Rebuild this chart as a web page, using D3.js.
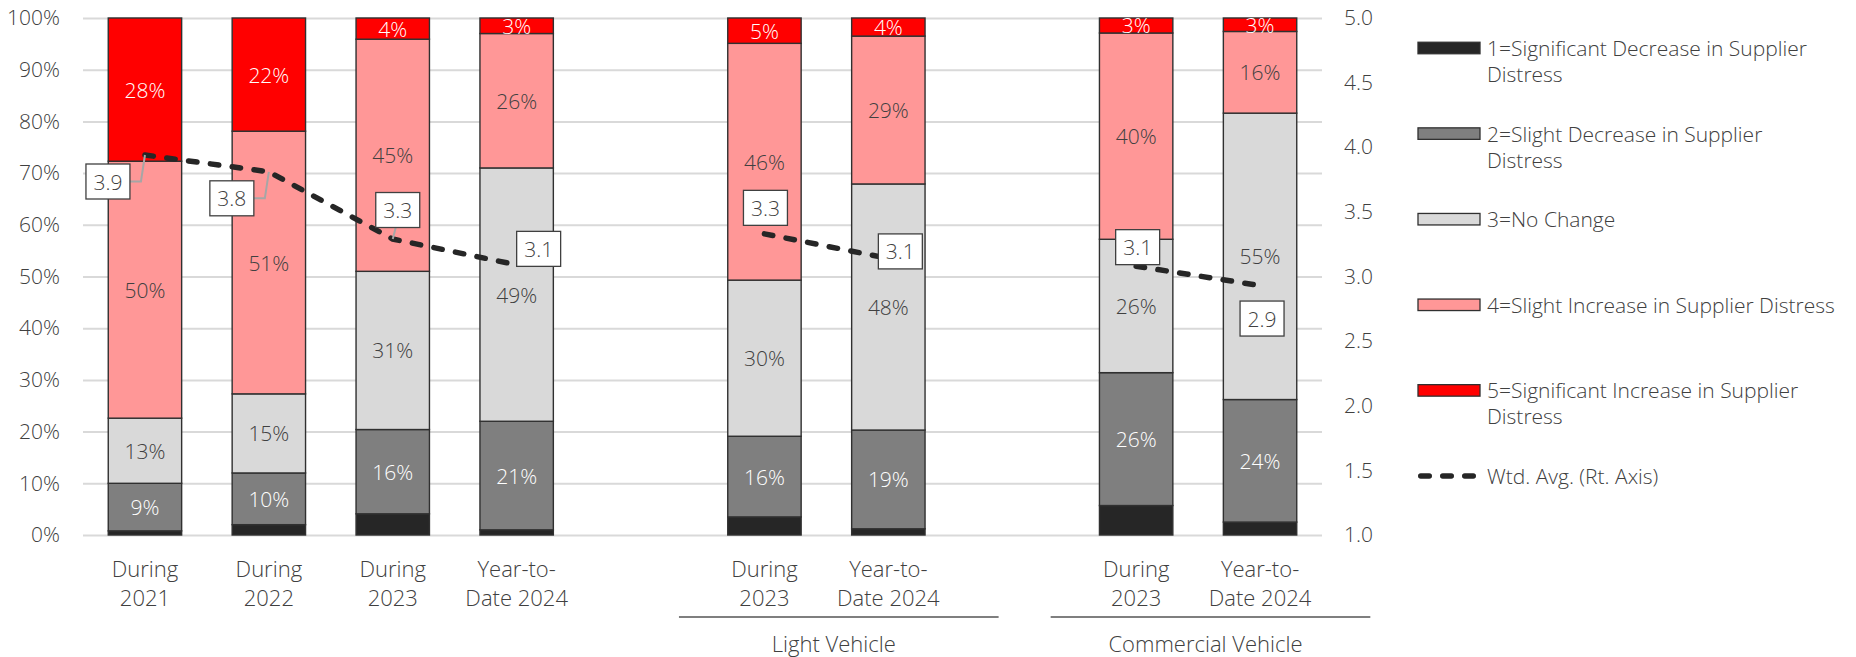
<!DOCTYPE html>
<html>
<head>
<meta charset="utf-8">
<script src="https://cdn.jsdelivr.net/npm/d3@7"></script>
<style>
  html, body { margin: 0; padding: 0; background: #fff; }
  svg { display: block; font-family: "Open Sans", Lato, sans-serif; font-weight: 300; }
</style>
</head>
<body>
<svg id="chart" width="1856" height="657"></svg>
<script>
// ---- Data ---------------------------------------------------------------
const categories = [
  "During\n2021", "During\n2022", "During\n2023", "Year-to-\nDate 2024",
  "During\n2023", "Year-to-\nDate 2024",
  "During\n2023", "Year-to-\nDate 2024"
];
const groups = ["", "", "", "", "Light Vehicle", "Light Vehicle", "Commercial Vehicle", "Commercial Vehicle"];

// Share of respondents (%) per rating
const sigDecrease    = [0.8,  2.0,  4.1,  1.0,  3.5,  1.2,  5.7,  2.5];
const slightDecrease = [9.2, 10.0, 16.3, 21.0, 15.6, 19.1, 25.7, 23.7];
const noChange       = [12.6, 15.3, 30.6, 49.0, 30.2, 47.6, 25.8, 55.4];
const slightIncrease = [49.7, 50.8, 44.9, 26.0, 45.8, 28.6, 39.9, 15.8];
const sigIncrease    = [27.7, 21.9,  4.1,  3.0,  4.9,  3.5,  2.9,  2.6];

// Weighted average rating (right axis)
const wtdAvg = [3.94, 3.81, 3.29, 3.09, 3.33, 3.14, 3.08, 2.93];

const seriesNames = [
  "1=Significant Decrease in Supplier\nDistress",
  "2=Slight Decrease in Supplier\nDistress",
  "3=No Change",
  "4=Slight Increase in Supplier Distress",
  "5=Significant Increase in Supplier\nDistress"
];
const lineName = "Wtd. Avg. (Rt. Axis)";

const pctTicks = [0, 10, 20, 30, 40, 50, 60, 70, 80, 90, 100];
const avgTicks = [1.0, 1.5, 2.0, 2.5, 3.0, 3.5, 4.0, 4.5, 5.0];

// ---- Styling / layout ----------------------------------------------------
const seriesValues = [sigDecrease, slightDecrease, noChange, slightIncrease, sigIncrease];
const fills = ["#262626", "#7f7f7f", "#d9d9d9", "#ff9797", "#ff0000"];
const labelColors = [null, "#ffffff", "#404040", "#404040", "#ffffff"];
const textColor = "#404040";
const fontSize = 21;
const catFontSize = 22;

// offsets of the average-value callouts from their points, and leader style
const calloutOffset = [[-37, 26.5], [-37, 26.5], [5, -29], [22, -16], [1, -26], [12, -7], [1.5, -19], [2, 33]];
const calloutLeader = ["elbow", "elbow", "straight", null, null, null, null, null];

const plot = { left: 83, right: 1322, top: 18, bottom: 535 };

const svg = d3.select("#chart");

// Build the category slots, leaving an empty slot between groups
const rows = categories.map((c, i) => ({
  i, key: groups[i] + "|" + c + "|" + i, label: c, group: groups[i],
  values: seriesValues.map(s => s[i]), avg: wtdAvg[i]
}));
const domain = [];
rows.forEach((r, i) => {
  if (i > 0 && rows[i - 1].group !== r.group) domain.push("gap" + i);
  domain.push(r.key);
});

const x = d3.scaleBand().domain(domain).range([plot.left, plot.right])
  .paddingInner(0.4076).paddingOuter(0.2038);
const y = d3.scaleLinear().domain([0, 100]).range([plot.bottom, plot.top]);
const y2 = d3.scaleLinear().domain([1, 5]).range([plot.bottom, plot.top]);
const cx = r => x(r.key) + x.bandwidth() / 2;

// ---- Gridlines & axes ----------------------------------------------------
const leftAxis = d3.axisLeft(y).tickValues(pctTicks).tickFormat(d => d + "%")
  .tickSize(-(plot.right - plot.left)).tickPadding(23);
const gL = svg.append("g").attr("transform", `translate(${plot.left},0)`).call(leftAxis);
gL.select(".domain").remove();
gL.selectAll(".tick line").attr("stroke", "#d9d9d9").attr("stroke-width", 2);
gL.selectAll(".tick text").attr("fill", textColor).attr("font-size", fontSize);
gL.attr("font-family", null);

const rightAxis = d3.axisRight(y2).tickValues(avgTicks).tickFormat(d3.format(".1f"))
  .tickSize(0).tickPadding(22);
const gR = svg.append("g").attr("transform", `translate(${plot.right},0)`).call(rightAxis);
gR.select(".domain").remove();
gR.selectAll(".tick text").attr("fill", textColor).attr("font-size", fontSize);
gR.attr("font-family", null);

// ---- Stacked bars --------------------------------------------------------
const stackData = rows.map(r => {
  let acc = 0;
  return r.values.map((v, s) => { const seg = { r, s, v, y0: acc, y1: acc + v }; acc += v; return seg; });
});

const barG = svg.append("g");
stackData.forEach(segs => {
  barG.selectAll(null).data(segs).enter().append("rect")
    .attr("x", d => x(d.r.key))
    .attr("width", x.bandwidth())
    .attr("y", d => y(d.y1))
    .attr("height", d => y(d.y0) - y(d.y1))
    .attr("fill", d => fills[d.s])
    .attr("stroke", "#303030")
    .attr("stroke-width", 1.4);
});

// segment value labels
const segLabelG = svg.append("g");
stackData.forEach(segs => {
  segLabelG.selectAll(null).data(segs.filter(d => labelColors[d.s])).enter().append("text")
    .attr("x", d => cx(d.r))
    .attr("y", d => y((d.y0 + d.y1) / 2))
    .attr("text-anchor", "middle")
    .attr("dominant-baseline", "central")
    .attr("font-size", fontSize)
    .attr("fill", d => labelColors[d.s])
    .text(d => Math.round(d.v) + "%");
});

// ---- Weighted average line (one run per group) ---------------------------
const dash = "8.5,13.5";
const line = d3.line().x(d => cx(d)).y(d => y2(d.avg));
const byGroup = d3.groups(rows, r => r.group);
svg.append("g").selectAll("path").data(byGroup).enter().append("path")
  .attr("d", d => line(d[1]))
  .attr("fill", "none")
  .attr("stroke", "#262626")
  .attr("stroke-width", 5.5)
  .attr("stroke-linecap", "round")
  .attr("stroke-dasharray", dash);

// callouts
const callG = svg.append("g");
rows.forEach((r, i) => {
  const px = cx(r), py = y2(r.avg);
  const bx = px + calloutOffset[i][0], by = py + calloutOffset[i][1];
  const t = callG.append("text")
    .attr("x", bx).attr("y", by)
    .attr("text-anchor", "middle").attr("dominant-baseline", "central")
    .attr("font-size", fontSize).attr("fill", textColor)
    .text(r.avg.toFixed(1));
  const w = t.node().getComputedTextLength() + 15, h = 35;
  if (calloutLeader[i] === "elbow") {
    callG.insert("path", "text")
      .attr("d", `M${bx + w / 2},${by} H${px - 4} L${px},${py}`)
      .attr("fill", "none").attr("stroke", "#a6a6a6").attr("stroke-width", 2);
  } else if (calloutLeader[i] === "straight") {
    callG.insert("path", "text")
      .attr("d", `M${bx - 2},${by + h / 2} L${px},${py}`)
      .attr("fill", "none").attr("stroke", "#a6a6a6").attr("stroke-width", 2);
  }
  callG.insert("rect", () => t.node())
    .attr("x", bx - w / 2).attr("y", by - h / 2)
    .attr("width", w).attr("height", h)
    .attr("fill", "#fff").attr("stroke", "#404040").attr("stroke-width", 1.3);
});

// ---- Category axis labels ------------------------------------------------
const catG = svg.append("g");
rows.forEach(r => {
  const t = catG.append("text")
    .attr("x", cx(r)).attr("y", 568)
    .attr("text-anchor", "middle").attr("dominant-baseline", "central")
    .attr("font-size", catFontSize).attr("fill", textColor);
  r.label.split("\n").forEach((ln, k) => {
    t.append("tspan").attr("x", cx(r)).attr("dy", k === 0 ? 0 : 28.5).text(ln);
  });
});

// group brackets
byGroup.filter(g => g[0] !== "").forEach(([name, rs]) => {
  const step = x.step();
  const x0 = cx(rs[0]) - 0.69 * step;
  const x1 = cx(rs[rs.length - 1]) + 0.89 * step;
  catG.append("line").attr("x1", x0).attr("x2", x1).attr("y1", 617).attr("y2", 617)
    .attr("stroke", "#7f7f7f").attr("stroke-width", 2);
  catG.append("text")
    .attr("x", (x0 + x1) / 2 - 5).attr("y", 643)
    .attr("text-anchor", "middle").attr("dominant-baseline", "central")
    .attr("font-size", catFontSize).attr("fill", textColor)
    .text(name);
});

// ---- Legend --------------------------------------------------------------
const legend = svg.append("g");
const legX = 1418, legTextX = 1487, legY0 = 48, legStep = 85.6;
seriesNames.forEach((name, s) => {
  const ly = legY0 + s * legStep;
  legend.append("rect")
    .attr("x", legX).attr("y", ly - 5.75).attr("width", 62).attr("height", 11.5)
    .attr("fill", fills[s]).attr("stroke", "#303030").attr("stroke-width", 1.3);
  const t = legend.append("text").attr("y", ly)
    .attr("dominant-baseline", "central").attr("font-size", fontSize).attr("fill", textColor);
  name.split("\n").forEach((ln, k) => {
    t.append("tspan").attr("x", legTextX).attr("dy", k === 0 ? 0 : 26).text(ln);
  });
});
{
  const ly = legY0 + seriesNames.length * legStep;
  legend.append("line")
    .attr("x1", legX + 2.75).attr("x2", legX + 58).attr("y1", ly).attr("y2", ly)
    .attr("stroke", "#262626").attr("stroke-width", 5.5)
    .attr("stroke-linecap", "round").attr("stroke-dasharray", dash);
  legend.append("text").attr("x", legTextX).attr("y", ly)
    .attr("dominant-baseline", "central").attr("font-size", fontSize).attr("fill", textColor)
    .text(lineName);
}
</script>
</body>
</html>
